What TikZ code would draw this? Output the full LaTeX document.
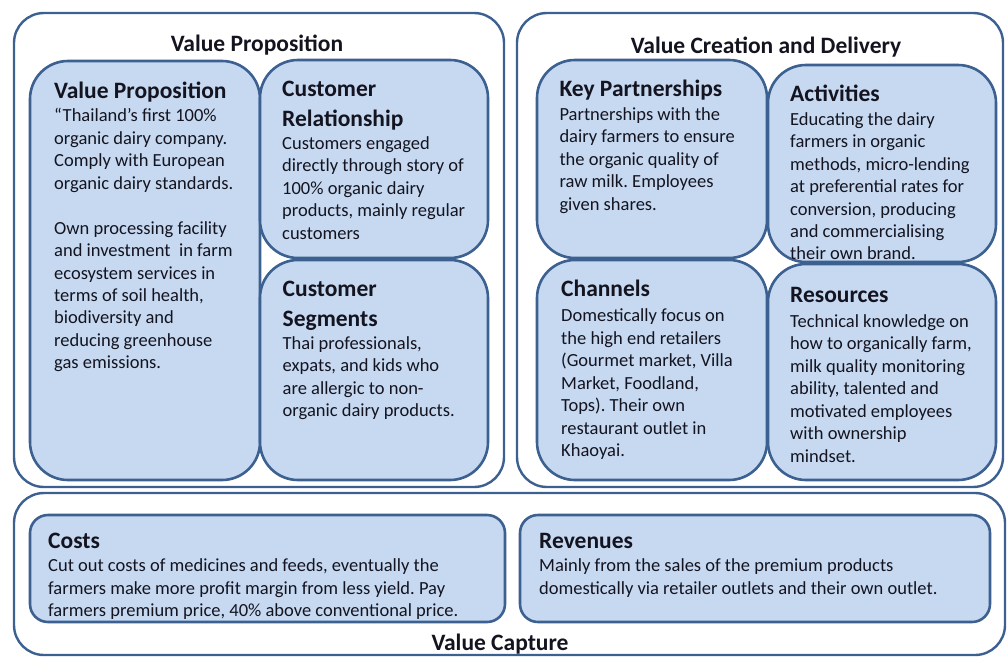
\documentclass[tikz,border=0pt]{standalone}
\usepackage{fontspec}
\setmainfont{Carlito}
\frenchspacing
\definecolor{bordc}{HTML}{3C6090}
\definecolor{fillc}{HTML}{C6D9F1}
\definecolor{txtc}{HTML}{141420}
\newcommand\mkbox[6]{\node[#1, minimum width={#4-#2}, minimum height={#5-#3}] (#6) at ({(#2+#4)/2},{(#3+#5)/2}) {};}
\newcommand\hs{\rule{0pt}{18pt}}
\newcommand\bs{\rule{0pt}{14pt}}
\begin{document}
\begin{tikzpicture}[x=1pt,y=-1pt,
  outerbox/.style={draw=bordc, fill=white, line width=2.4pt, rounded corners=30pt, inner sep=0pt},
  innerbox/.style={draw=bordc, fill=fillc, line width=2.6pt, rounded corners=38pt, inner sep=0pt},
  flatbox/.style={draw=bordc, fill=fillc, line width=2.6pt, rounded corners=18pt, inner sep=0pt},
  title/.style={font=\fontsize{23.5}{28}\selectfont\bfseries\frenchspacing, text=txtc, inner sep=0pt, anchor=base},
  hd/.style={font=\fontsize{23.5}{29.3}\selectfont\bfseries\frenchspacing, text=txtc, inner sep=0pt, anchor=north west, align=left},
  bd/.style={font=\fontsize{18.5}{22.45}\selectfont\frenchspacing, text=txtc, inner sep=0pt, anchor=north west, align=left}]
\useasboundingbox (0,0) rectangle (1008,656);
% outer frames
\mkbox{outerbox}{14}{13}{504}{487}{oL}
\mkbox{outerbox}{517}{13}{1003}{487}{oR}
\mkbox{outerbox}{14}{493}{1005}{655}{oB}
% inner boxes
\mkbox{innerbox}{30}{61}{260}{480}{vp}
\mkbox{innerbox}{260}{60}{488}{258}{cr}
\mkbox{innerbox}{260}{260}{488}{480}{cs}
\mkbox{innerbox}{537}{60}{767}{258}{kp}
\mkbox{innerbox}{768}{65}{996}{262}{act}
\mkbox{innerbox}{537}{260}{767}{480}{ch}
\mkbox{innerbox}{768}{264}{996}{480}{res}
\mkbox{flatbox}{30}{515}{505}{622}{cost}
\mkbox{flatbox}{520}{515}{990}{622}{rev}
% titles
\node[title] (tVP) at (257,51.7) {Value Proposition};
\node[title] (tVC) at (766,53.3) {Value Creation and Delivery};
\node[title] (tCap) at (500,650) {Value Capture};
% value proposition
\node[hd] (hvp) at (54,98.5-18) {\hs Value Proposition};
\node[bd] (bvp) at (54,121.7-14) {\bs“Thailand’s first 100\%\\organic dairy company.\\Comply with European\\organic dairy standards.\\[22.45pt]Own processing facility\\and investment~ in farm\\ecosystem services in\\terms of soil health,\\biodiversity and\\reducing greenhouse\\gas emissions.};
% customer relationship
\node[hd] (hcr) at (282,96.7-18) {\hs Customer\\Relationship};
\node[bd] (bcr) at (282,149.3-14) {\bs Customers engaged\\directly through story of\\100\% organic dairy\\products, mainly regular\\customers};
% customer segments
\node[hd] (hcs) at (282.5,296.7-18) {\hs Customer\\Segments};
\node[bd] (bcs) at (282.5,349.3-14) {\bs Thai professionals,\\expats, and kids who\\are allergic to non-\\organic dairy products.};
% key partnerships
\node[hd] (hkp) at (559.3,96.7-18) {\hs Key Partnerships};
\node[bd] (bkp) at (559.3,120-14) {\bs Partnerships with the\\dairy farmers to ensure\\the organic quality of\\raw milk. Employees\\given shares.};
% activities
\node[hd] (hact) at (790,101-18) {\hs Activities};
\node[bd] (bact) at (790,125-14) {\bs Educating the dairy\\farmers in organic\\methods, micro-lending\\at preferential rates for\\conversion, producing\\and commercialising\\their own brand.};
% channels
\node[hd] (hch) at (561,296.7-18) {\hs Channels};
\node[bd] (bch) at (561,321.7-14) {\bs Domestically focus on\\the high end retailers\\(Gourmet market, Villa\\Market, Foodland,\\Tops). Their own\\restaurant outlet in\\Khaoyai.};
% resources
\node[hd] (hres) at (790,302.3-18) {\hs Resources};
\node[bd] (bres) at (790,327.3-14) {\bs Technical knowledge on\\how to organically farm,\\milk quality monitoring\\ability, talented and\\motivated employees\\with ownership\\mindset.};
% costs
\node[hd] (hcost) at (48,548.3-18) {\hs Costs};
\node[bd] (bcost) at (48,571.7-14) {\bs Cut out costs of medicines and feeds, eventually the\\farmers make more profit margin from less yield. Pay\\farmers premium price, 40\% above conventional price.};
% revenues
\node[hd] (hrev) at (539,548.3-18) {\hs Revenues};
\node[bd] (brev) at (539,571.7-14) {\bs Mainly from the sales of the premium products\\domestically via retailer outlets and their own outlet.};
\end{tikzpicture}
\end{document}
